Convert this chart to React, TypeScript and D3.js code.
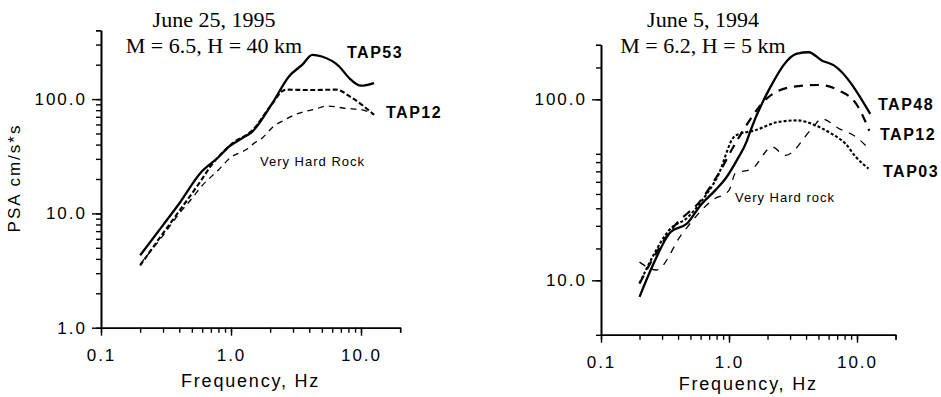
import React, { useEffect, useRef } from 'react';
import * as d3 from 'd3';

// June 25, 1995 (left panel)
const l53Freq = [0.2, 0.3, 0.4, 0.58, 0.8, 0.97, 1.2, 1.46, 2.08, 2.79, 3.54, 4.22, 5.0, 6.8, 8.1, 10, 12.6];
const l53Psa = [4.3, 7.9, 12.2, 22.5, 31, 38.5, 45, 52, 92, 158, 200, 244, 236, 193, 153, 131, 138];
const l12Freq = [0.2, 0.3, 0.4, 0.57, 0.7, 1.0, 1.5, 2.0, 2.64, 4.0, 6.39, 8.57, 12.6];
const l12Psa = [3.5, 6.7, 10.5, 18.4, 26, 40, 55, 86, 121, 120, 121, 102, 73];
const lRockFreq = [0.2, 0.3, 0.4, 0.5, 0.6, 0.8, 1.0, 1.3, 1.5, 1.75, 2.1, 2.6, 3.3, 4.5, 5.5, 7.6, 10, 12.6];
const lRockPsa = [3.6, 6.4, 10, 13.5, 17.5, 24, 31, 36, 41, 46, 57, 66, 75, 82, 87, 83, 81, 73];

// June 5, 1994 (right panel)
const r48Freq = [0.2, 0.25, 0.35, 0.47, 0.6, 0.78, 0.94, 1.15, 1.38, 1.47, 2.04, 3.4, 4.2, 5.3, 6.6, 12.7];
const r48Psa = [8.1, 11.8, 18.5, 20.6, 26, 31.4, 36.5, 46, 59, 67, 112, 179, 182, 164, 154, 83];
const r12Freq = [0.2, 0.23, 0.36, 0.62, 0.83, 1.12, 2.04, 3.1, 5.0, 7.2, 10, 12.5];
const r12Psa = [9.6, 11.6, 19.3, 28.4, 38.9, 57, 103, 117, 120, 112, 93, 67];
const r03Freq = [0.2, 0.26, 0.34, 0.48, 0.6, 0.81, 1.12, 1.6, 2.43, 3.4, 4.7, 6.3, 8.1, 9.8, 12.3];
const r03Psa = [9.6, 14, 18.9, 22.4, 27, 37.2, 63, 67.4, 75, 76.5, 72, 64.6, 57, 48, 41.4];
const rRockFreq = [0.2, 0.27, 0.43, 0.74, 1.0, 1.12, 1.52, 2.17, 2.76, 4.45, 5.3, 7.2, 9.8, 12.5];
const rRockPsa = [12.6, 11.4, 18.1, 27.7, 31.4, 38.9, 41.4, 54.5, 49, 69, 78, 69, 62, 53];

const xMajor = [0.1, 1, 10];
const fmt = (v: number) => v.toFixed(1);
const minorTicks = (lo: number, hi: number) => {
  const out: number[] = [];
  for (let d = lo; d < hi; d *= 10) for (let k = 1; k < 10; k++) if (d * k >= lo && d * k <= hi) out.push(d * k);
  out.push(hi);
  return out;
};

const sans = '"Liberation Sans", Arial, Helvetica, sans-serif';
const serif = '"Liberation Serif", "Times New Roman", serif';

const App = () => {
  const ref = useRef<SVGSVGElement>(null);

  useEffect(() => {
    const svg = d3.select(ref.current);
    svg.selectAll('*').remove();

    const panels = [
      {
        x0: 101, decX: 130, yBottom: 327.7, decY: 114.3, yDom: [1, 400], yMajor: [1, 10, 100],
        title: ['June 25, 1995', 'M = 6.5, H = 40 km'], titleX: 214, xTitleY: 387,
        series: [
          { f: lRockFreq, v: lRockPsa, w: 1.3, dash: '6,5' },
          { f: l12Freq, v: l12Psa, w: 2.1, dash: '5,2.5' },
          { f: l53Freq, v: l53Psa, w: 2.3, dash: null },
        ],
        labels: [
          { t: 'TAP53', x: 347, y: 58, bold: true },
          { t: 'TAP12', x: 386, y: 118, bold: true },
          { t: 'Very Hard Rock', x: 260, y: 166, bold: false },
        ],
      },
      {
        x0: 601, decX: 128, yBottom: 334.8, decY: 181, yDom: [5, 200], yMajor: [10, 100],
        title: ['June 5, 1994', 'M = 6.2, H = 5 km'], titleX: 703, xTitleY: 390,
        series: [
          { f: rRockFreq, v: rRockPsa, w: 1.3, dash: '7,7' },
          { f: r03Freq, v: r03Psa, w: 2.1, dash: '3,2' },
          { f: r12Freq, v: r12Psa, w: 2.2, dash: '9,7' },
          { f: r48Freq, v: r48Psa, w: 2.3, dash: null },
        ],
        labels: [
          { t: 'TAP48', x: 878, y: 110, bold: true },
          { t: 'TAP12', x: 880, y: 140, bold: true },
          { t: 'TAP03', x: 883, y: 177, bold: true },
          { t: 'Very Hard rock', x: 735, y: 202, bold: false },
        ],
      },
    ];

    panels.forEach((p) => {
      const x = d3.scaleLog().domain([0.1, 20]).range([p.x0, p.x0 + p.decX * Math.log10(200)]);
      const yTop = p.yBottom - p.decY * Math.log10(p.yDom[1] / p.yDom[0]);
      const y = d3.scaleLog().domain(p.yDom).range([p.yBottom, yTop]);
      const g = svg.append('g');

      // y axis: minor then major
      const yMinor = minorTicks(p.yDom[0], p.yDom[1]);
      g.append('g').attr('transform', `translate(${p.x0},0)`)
        .call(d3.axisLeft(y).tickValues(yMinor).tickSize(5).tickSizeOuter(0).tickFormat(() => ''));
      g.append('g').attr('transform', `translate(${p.x0},0)`)
        .call(d3.axisLeft(y).tickValues(p.yMajor).tickSize(9).tickSizeOuter(0).tickPadding(5).tickFormat((d) => fmt(+d)));

      const xMinor = minorTicks(0.1, 20);
      g.append('g').attr('transform', `translate(0,${p.yBottom})`)
        .call(d3.axisBottom(x).tickValues(xMinor).tickSize(5).tickSizeOuter(0).tickFormat(() => ''));
      g.append('g').attr('transform', `translate(0,${p.yBottom})`)
        .call(d3.axisBottom(x).tickValues(xMajor).tickSize(8).tickSizeOuter(0).tickPadding(13).tickFormat((d) => fmt(+d)));

      g.selectAll('.domain').attr('stroke', '#000').attr('stroke-width', 1.6);
      g.selectAll('.tick line').attr('stroke', '#000').attr('stroke-width', 1.4);
      g.selectAll('.tick text')
        .attr('fill', '#000')
        .style('font-family', sans)
        .style('font-size', '17px')
        .style('letter-spacing', '2px');

      g.append('text')
        .attr('x', (x(0.1) + x(20)) / 2)
        .attr('y', p.xTitleY)
        .attr('text-anchor', 'middle')
        .style('font-family', sans)
        .style('font-size', '18px')
        .style('letter-spacing', '1.8px')
        .text('Frequency, Hz');

      p.title.forEach((t, i) => {
        g.append('text')
          .attr('x', p.titleX)
          .attr('y', 27 + i * 26)
          .attr('text-anchor', 'middle')
          .style('font-family', serif)
          .style('font-size', '22px')
          .text(t);
      });

      const line = d3.line<[number, number]>()
        .x((d) => x(d[0]))
        .y((d) => y(d[1]))
        .curve(d3.curveMonotoneX);

      p.series.forEach((s) => {
        const pts = s.f.map((f, i) => [f, s.v[i]] as [number, number]);
        g.append('path')
          .attr('d', line(pts))
          .attr('fill', 'none')
          .attr('stroke', '#000')
          .attr('stroke-width', s.w)
          .attr('stroke-dasharray', s.dash)
          .attr('stroke-linejoin', 'round');
      });

      p.labels.forEach((l) => {
        g.append('text')
          .attr('x', l.x)
          .attr('y', l.y)
          .style('font-family', sans)
          .style('font-size', l.bold ? '16px' : '13px')
          .style('font-weight', l.bold ? 'bold' : 'normal')
          .style('letter-spacing', l.bold ? '1.5px' : '1px')
          .text(l.t);
      });
    });

    svg.append('text')
      .attr('transform', 'translate(20,178) rotate(-90)')
      .attr('text-anchor', 'middle')
      .style('font-family', sans)
      .style('font-size', '17px')
      .style('letter-spacing', '2px')
      .text('PSA cm/s*s');
  }, []);

  return (
    <div style={{ position: 'absolute', left: 0, top: 0 }}>
      <svg ref={ref} width={941} height={397} style={{ display: 'block', background: '#fff' }} />
    </div>
  );
};

export default App;
